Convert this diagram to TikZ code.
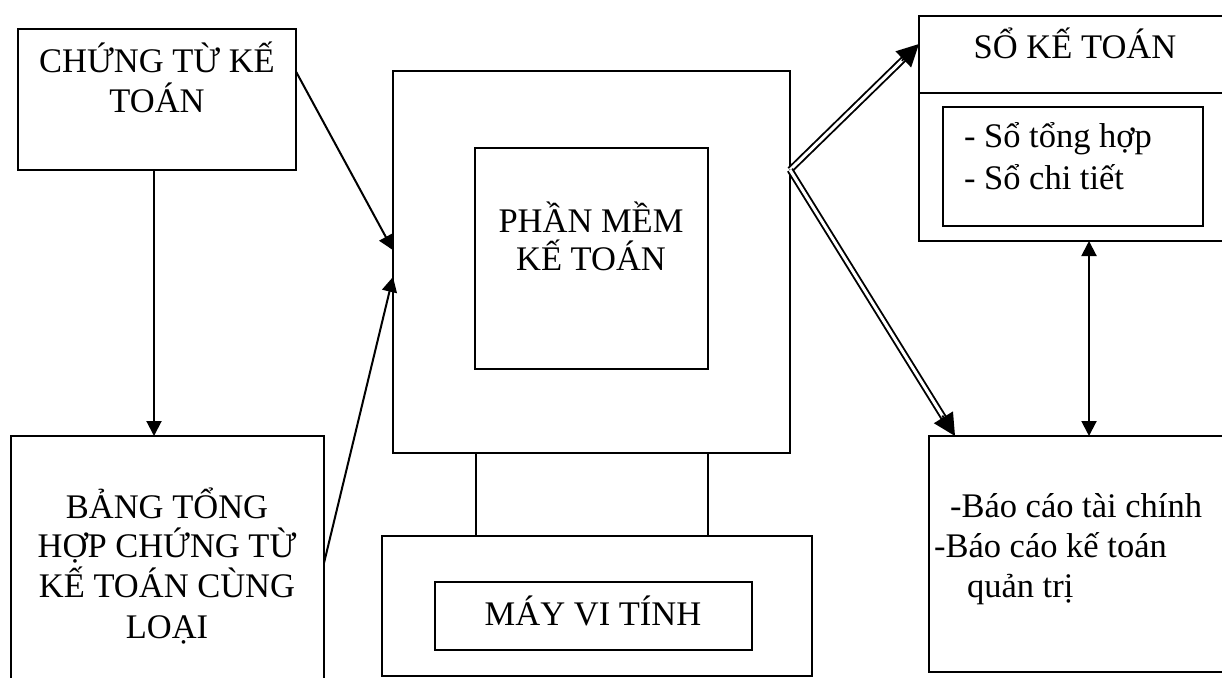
\documentclass[tikz,border=0pt]{standalone}
\usepackage{fontspec}
\setmainfont{Liberation Serif}
\usetikzlibrary{arrows.meta,calc}

\tikzset{
  box/.style={draw, line width=1.9pt, rectangle, anchor=north west,
    inner sep=0pt, outer sep=0pt},
  lbl/.style={inner sep=0pt, outer sep=0pt,
    font=\fontsize{34.5}{40}\selectfont},
  arr/.style={line width=2pt, -{Triangle[length=15pt,width=15pt]}},
  biarr/.style={line width=2pt,
    {Triangle[length=15pt,width=15pt]}-{Triangle[length=15pt,width=15pt]}},
  dbl/.style={double, double distance=3pt, line width=1.9pt},
  bigtip/.style={line width=1.9pt, -{Triangle[length=22pt,width=22pt]}}
}

\begin{document}
\begin{tikzpicture}[x=1pt,y=-1pt]
\path[use as bounding box, clip] (0,0) rectangle (1222,677);
\fill[white] (0,0) rectangle (1222,677);

% source documents
\node[box, minimum width=278pt, minimum height=141pt] (ct) at (18,29) {};
\node[lbl, anchor=base] (ct1) at (157,72) {CHỨNG TỪ KẾ};
\node[lbl, anchor=base] (ct2) at (157,112) {TOÁN};

% summary table of documents
\node[box, minimum width=313pt, minimum height=270pt] (bang) at (11,436) {};
\node[lbl, anchor=base] (bg1) at (167,518) {BẢNG TỔNG};
\node[lbl, anchor=base] (bg2) at (167,557) {HỢP CHỨNG TỪ};
\node[lbl, anchor=base] (bg3) at (167,597) {KẾ TOÁN CÙNG};
\node[lbl, anchor=base] (bg4) at (167,638) {LOẠI};

% computer: monitor, software, stand and base
\node[box, minimum width=397pt, minimum height=382pt] (mon) at (393,71) {};
\node[box, minimum width=233pt, minimum height=221pt] (pm) at (475,148) {};
\node[lbl, anchor=base] (pm1) at (591,232) {PHẦN MỀM};
\node[lbl, anchor=base] (pm2) at (591,270) {KẾ TOÁN};
\node[box, minimum width=232pt, minimum height=83pt] (stand) at (476,453) {};
\node[box, minimum width=430pt, minimum height=140pt] (base) at (382,536) {};
\node[box, minimum width=317pt, minimum height=68pt] (mvt) at (435,582) {};
\node[lbl, anchor=base] (mvt1) at (593,625) {MÁY VI TÍNH};

% accounting books
\node[box, minimum width=330pt, minimum height=225pt] (sk) at (919,16) {};
\draw[line width=1.9pt] (919,93) coordinate (skdl) -- (skdl -| sk.east);
\node[lbl, anchor=base] (sk1) at (1075,59) {SỔ KẾ TOÁN};
\node[box, minimum width=260pt, minimum height=119pt] (ski) at (943,107) {};
\node[lbl, anchor=base west] (sk2) at (964,147) {- Sổ tổng hợp};
\node[lbl, anchor=base west] (sk3) at (964,189) {- Sổ chi tiết};

% reports
\node[box, minimum width=320pt, minimum height=236pt] (bc) at (929,436) {};
\node[lbl, anchor=base west] (bc1) at (950,517) {-Báo cáo tài chính};
\node[lbl, anchor=base west] (bc2) at (934,557) {-Báo cáo kế toán};
\node[lbl, anchor=base west] (bc3) at (967,597) {quản trị};

% connection points
\coordinate (ctout) at ($(ct.north east)!0.302!(ct.south east)$);
\coordinate (bgout) at ($(bang.north east)+(0,127)$);
\coordinate (monin1) at ($(mon.north west)!0.469!(mon.south west)$);
\coordinate (monin2) at ($(mon.north west)!0.539!(mon.south west)$);
\coordinate (j) at ($(mon.north east)!0.259!(mon.south east)$);
\coordinate (skin) at ($(sk.north west)+(0,28)$);
\coordinate (bcin) at ($(bc.north west)+(26,0)$);
\coordinate (sklink) at ($(sk.south west)+(170,0)$);

% single arrows
\draw[arr] (ct.south -| 154,0) -- (bang.north -| 154,0);
\draw[arr] (ctout) -- (monin1);
\draw[arr] (bgout) -- (monin2);
\draw[biarr] (sklink) -- (sklink |- bc.north);

% double arrows from the computer
\draw[dbl, shorten >=16pt] (j) -- (skin);
\draw[bigtip] ($(skin)!24pt!(j)$) -- (skin);
\draw[dbl, shorten >=16pt] (j) -- (bcin);
\draw[bigtip] ($(bcin)!24pt!(j)$) -- (bcin);
\end{tikzpicture}
\end{document}
